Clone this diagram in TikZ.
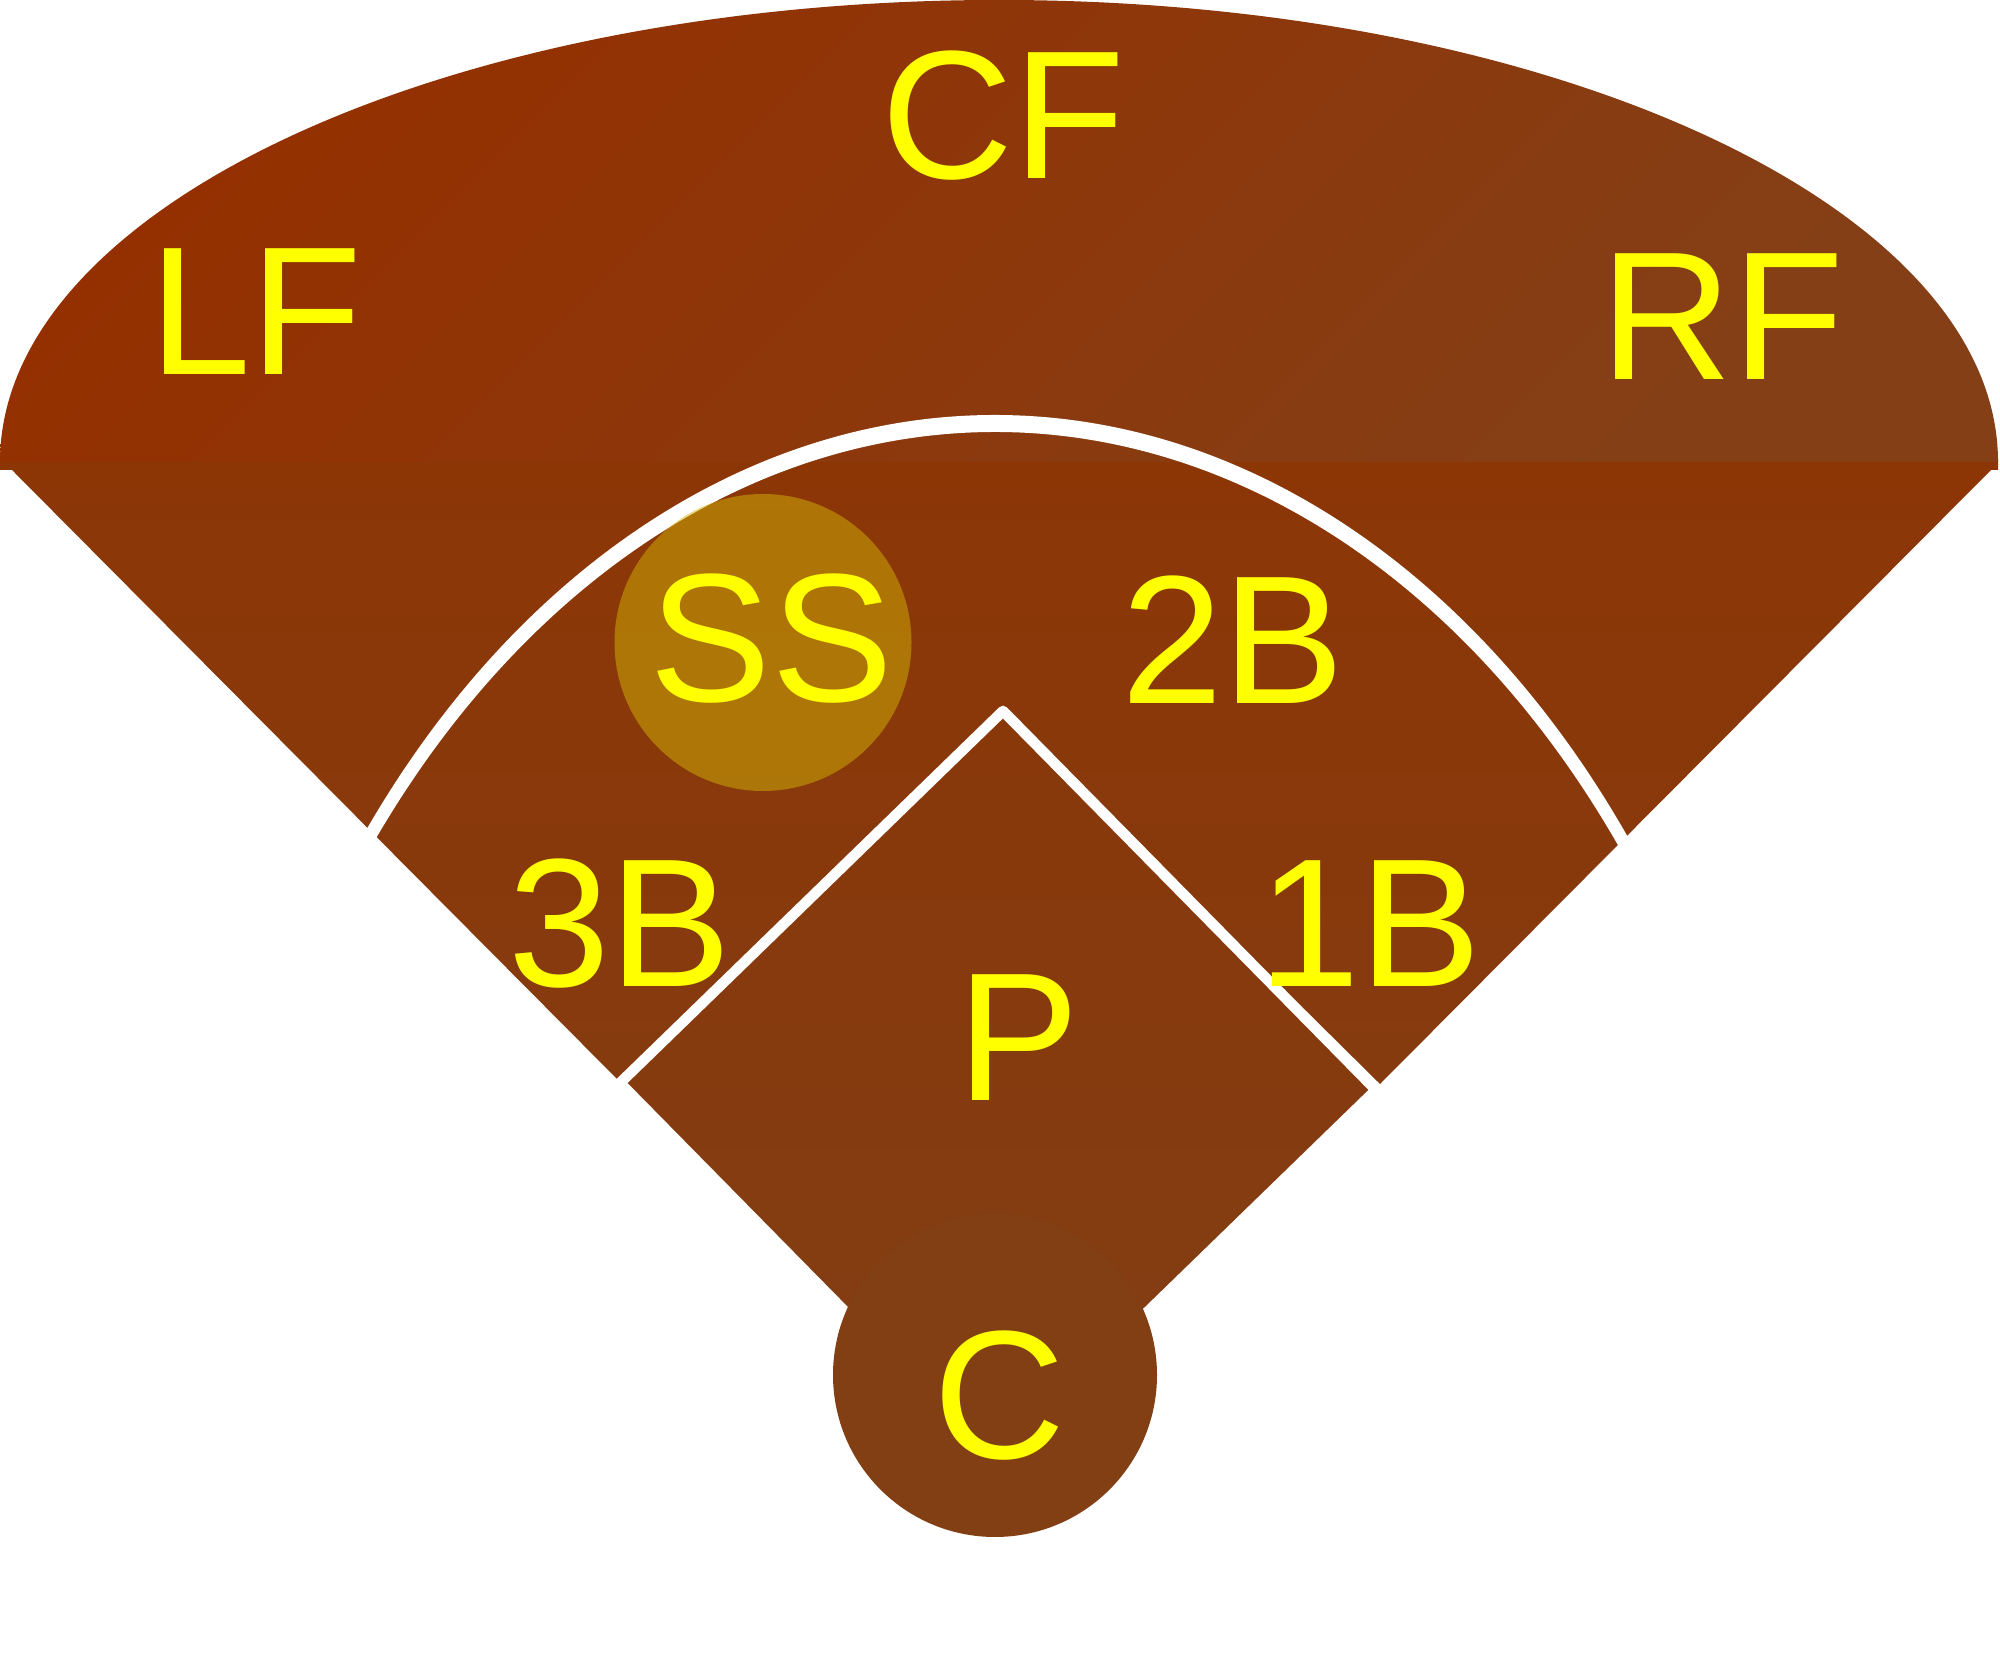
\documentclass[tikz,border=0pt]{standalone}
\usepackage{fontspec}
\setmainfont{Liberation Sans}
\usepackage{tikz}
\usetikzlibrary{calc}
\definecolor{capA}{HTML}{943000}
\definecolor{capB}{HTML}{853F16}
\definecolor{fanA}{HTML}{8C3606}
\definecolor{fanB}{HTML}{863B0F}
\definecolor{dmdA}{HTML}{89380A}
\definecolor{dmdB}{HTML}{823E14}
\definecolor{catch}{HTML}{823F14}
\definecolor{ssgold}{HTML}{D2B406}
\definecolor{plyellow}{HTML}{FFFF00}

\begin{document}
\begin{tikzpicture}[x=0.01cm, y=0.01cm,
    player/.style={text=plyellow, font=\fontsize{52}{62}\selectfont, anchor=base, inner sep=0pt}]
    \useasboundingbox (0,0) rectangle (2000,1670);

    \coordinate(T) at (1003, 959);
    \coordinate(L) at ( 620, 587);
    \coordinate(R) at (1376, 580);
    \coordinate(B) at ( 993, 208);
    \coordinate(fl) at ( 617, 591);
    \coordinate(fr) at (1380, 586);

    % fan and outfield
    \shade[top color=fanA, bottom color=fanB]
        (0,1212) -- (0,1200) -- (12,1200) -- (fl) -- (T) -- (fr) -- (1991,1200) -- (1998,1200) -- (1998,1212) -- cycle;
    \shade[top color=capA, bottom color=capB, shading angle=45]
        (0,1208) arc[start angle=180, end angle=0, x radius=999, y radius=462] -- cycle;

    % infield arc
    \fill[white] ($(995,168)+(145:800 and 1087)$) arc[start angle=145, end angle=35, x radius=800, y radius=1087]
        -- ($(995,165)+(35:790 and 1073)$) arc[start angle=35, end angle=145, x radius=790, y radius=1073] -- cycle;

    \shade[top color=dmdA, bottom color=dmdB, draw=white, line width=3pt, line join=round]
        (T) -- (R) -- (B) -- (L) -- cycle;
    \fill[catch] (995,295) circle[radius=162];
    \fill[ssgold, opacity=0.5] (763,1027.5) circle[radius=148.5];

    \node[player](cf) at (1003,1491) {CF};
    \node[player](lf) at ( 256,1295) {LF};
    \node[player](rf) at (1722,1290) {RF};
    \node[player](ss) at ( 771, 968) {SS};
    \node[player](b2) at (1233, 966) {2B};
    \node[player](b3) at ( 620, 683) {3B};
    \node[player](b1) at (1370, 683) {1B};
    \node[player](p)  at (1018, 569) {P};
    \node[player](c)  at (1000, 211) {C};
\end{tikzpicture}
\end{document}
